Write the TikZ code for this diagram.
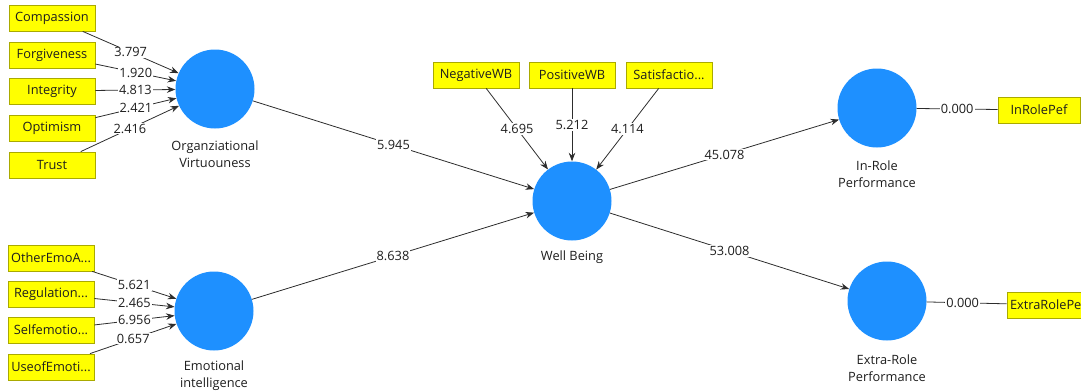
\documentclass[tikz,border=0pt]{standalone}
\usepackage{fontspec}
\setmainfont{Open Sans}
\usetikzlibrary{arrows.meta}
\definecolor{lvblue}{RGB}{30,144,255}
\definecolor{indyel}{RGB}{255,255,0}
\definecolor{indbord}{RGB}{170,170,0}
\definecolor{txt}{RGB}{30,30,30}
\definecolor{ln}{RGB}{45,45,45}
\tikzset{
  lv/.style={circle,fill=lvblue,draw=none,minimum size=79pt,inner sep=0pt},
  ind/.style={rectangle,fill=indyel,draw=indbord,line width=0.8pt,minimum width=86pt,minimum height=26pt,inner sep=0pt,font=\fontsize{12.8}{14}\selectfont,text=txt},
  lvlab/.style={align=center,font=\fontsize{12.8}{17}\selectfont,text=txt},
  wt/.style={fill=white,inner sep=1pt,font=\fontsize{12.8}{14}\selectfont,text=txt},
  arr/.style={draw=ln,line width=0.8pt,-{Stealth[length=8.5pt,width=6.5pt]}},
  plain/.style={draw=ln,line width=0.8pt}
}
\begin{document}
\begin{tikzpicture}[x=1pt,y=-1pt]
\useasboundingbox (0,0) rectangle (1081,391);
\clip (0,0) rectangle (1081,391);
% latent variables
\node[lv] (ov) at (215,89) {};
\node[lv] (ei) at (214,311) {};
\node[lv] (wb) at (572,201) {};
\node[lv] (ir) at (877,108) {};
\node[lv] (er) at (887,301) {};
\node[lvlab] (ovl) at (215,154) {Organziational\\Virtuouness};
\node[lvlab] (eil) at (214,376) {Emotional\\intelligence};
\node[lvlab] (wbl) at (572,257) {Well Being};
\node[lvlab] (irl) at (877,174) {In-Role\\Performance};
\node[lvlab] (erl) at (887,368) {Extra-Role\\Performance};
% indicators OV
\node[ind] (c1) at (52,18) {Compassion};
\node[ind] (c2) at (52,55) {Forgiveness};
\node[ind] (c3) at (52,91) {Integrity};
\node[ind] (c4) at (52,128) {Optimism};
\node[ind] (c5) at (52,165) {Trust};
% indicators EI
\node[ind] (e1) at (51,258) {OtherEmoA...};
\node[ind] (e2) at (51,294) {Regulation...};
\node[ind] (e3) at (51,330) {Selfemotio...};
\node[ind] (e4) at (51,367) {UseofEmoti...};
% indicators WB
\node[ind] (w1) at (476,75) {NegativeWB};
\node[ind] (w2) at (572,75) {PositiveWB};
\node[ind] (w3) at (669,75) {Satisfactio...};
% indicators IR / ER
\node[ind,minimum width=82pt] (i1) at (1039,110) {InRolePef};
\node[ind,minimum width=100pt,text width=94pt,align=left] (x1) at (1057,305) {ExtraRolePef};
% formative arrows OV
\draw[arr] (c1) -- node[wt] {3.797} (ov);
\draw[arr] (c2) -- node[wt] {1.920} (ov);
\draw[arr] (c3) -- node[wt] {4.813} (ov);
\draw[arr] (c4) -- node[wt] {2.421} (ov);
\draw[arr] (c5) -- node[wt] {2.416} (ov);
% formative arrows EI
\draw[arr] (e1) -- node[wt] {5.621} (ei);
\draw[arr] (e2) -- node[wt] {2.465} (ei);
\draw[arr] (e3) -- node[wt] {6.956} (ei);
\draw[arr] (e4) -- node[wt] {0.657} (ei);
% formative arrows WB
\draw[arr] (w1) -- node[wt] {4.695} (wb);
\draw[arr] (w2) -- node[wt] {5.212} (wb);
\draw[arr] (w3) -- node[wt] {4.114} (wb);
% structural paths
\draw[arr] (ov) -- node[wt] {5.945} (wb);
\draw[arr] (ei) -- node[wt] {8.638} (wb);
\draw[arr] (wb) -- node[wt] {45.078} (ir);
\draw[arr] (wb) -- node[wt] {53.008} (er);
% single indicators
\draw[plain] (ir) -- node[wt] {0.000} (i1);
\draw[plain] (er) -- node[wt,pos=0.45] {0.000} (x1);
\end{tikzpicture}
\end{document}
